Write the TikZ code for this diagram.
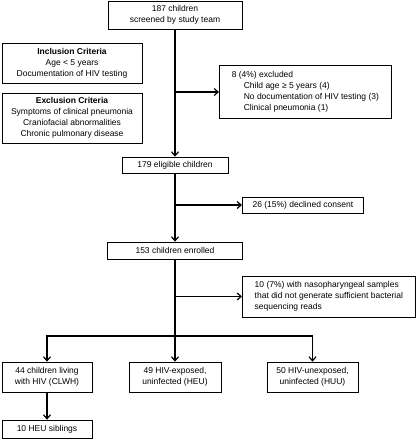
\documentclass[tikz,border=0pt]{standalone}
\usepackage{fontspec}
\setmainfont{Liberation Sans}
\usetikzlibrary{arrows.meta,positioning}
\newcommand{\flowfont}{\fontsize{8.5}{11}\selectfont}

\begin{document}
\begin{tikzpicture}[x=1pt,y=-1pt,
    box/.style={draw, line width=0.7pt, align=center, inner sep=2pt, font=\flowfont},
    lbox/.style={box, align=left, inner sep=6pt, anchor=west},
    flow/.style={line width=1.2pt, -{Straight Barb[length=4pt,width=7pt,line width=1.2pt]}}]
    \useasboundingbox (0,0) rectangle (418,440);

    \node[box, minimum width=134pt, minimum height=28pt] (screen) at (175,15) {187 children\\screened by study team};
    \node[box, minimum width=140pt, minimum height=40pt] (incl) at (72,63) {\textbf{Inclusion Criteria}\\Age < 5 years\\Documentation of HIV testing};
    \node[box, minimum width=140pt, minimum height=50pt] (excl) at (72,118) {\textbf{Exclusion Criteria}\\Symptoms of clinical pneumonia\\Craniofacial abnormalities\\Chronic pulmonary disease};
    \node[lbox, minimum width=172pt, minimum height=50pt] (excluded) at (219,92) {8 (4\%) excluded\\\hspace{12pt}Child age ≥ 5 years (4)\\\hspace{12pt}No documentation of HIV testing (3)\\\hspace{12pt}Clinical pneumonia (1)};
    \node[box, minimum width=106pt, minimum height=16pt] (elig) at (175,165) {179 eligible children};
    \node[lbox, minimum width=121pt, minimum height=16pt, inner ysep=2pt] (declined) at (242,205) {26 (15\%) declined consent};
    \node[box, minimum width=135pt, minimum height=17pt] (enrolled) at (175,250.5) {153 children enrolled};
    \node[lbox, minimum width=173pt, minimum height=41pt, inner ysep=2pt] (seq) at (242,296.5) {10 (7\%) with nasopharyngeal samples\\that did not generate sufficient bacterial\\sequencing reads};
    \node[box, minimum width=90pt, minimum height=30pt] (clwh) at (47,377) {44 children living\\with HIV (CLWH)};
    \node[box, minimum width=92pt, minimum height=30pt] (heu) at (175,377) {49 HIV-exposed,\\uninfected (HEU)};
    \node[box, minimum width=91pt, minimum height=30pt] (huu) at (312.5,377) {50 HIV-unexposed,\\uninfected (HUU)};
    \node[box, minimum width=90pt, minimum height=18pt] (sib) at (47,429) {10 HEU siblings};

    %Branch points
    \coordinate (b1) at (175,92);
    \coordinate (b2) at (175,205);
    \coordinate (b3) at (175,296.5);
    \coordinate (b4) at (175,336);

    \draw[flow] (screen.south) -- (elig.north);
    \draw[flow] (b1) -- (excluded.west);
    \draw[flow] (elig.south) -- (enrolled.north);
    \draw[flow] (b2) -- (declined.west);
    \draw[flow] (enrolled.south) -- (heu.north);
    \draw[flow] (b3) -- (seq.west);
    \draw[flow] (b4) -| (clwh.north);
    \draw[flow] (b4) -| (huu.north);
    \draw[flow] (clwh.south) -- (sib.north);
\end{tikzpicture}
\end{document}
